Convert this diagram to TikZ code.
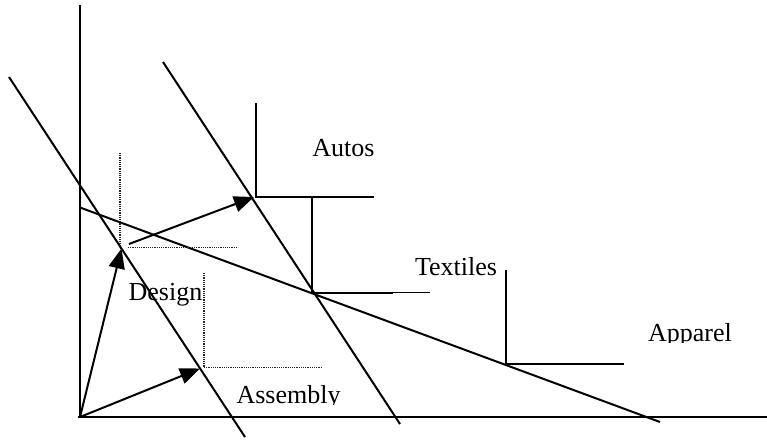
\documentclass[tikz,border=0pt]{standalone}
\usepackage{fontspec}
\setmainfont{Liberation Serif}
\usetikzlibrary{arrows.meta}
\begin{document}
\begin{tikzpicture}[x=1pt,y=-1pt,
  ln/.style={line width=2pt,black},
  ax/.style={line width=2.2pt,black},
  dots/.style={line width=1.6pt,black!85,dash pattern=on 1.1pt off 1.1pt},
  arr/.style={line width=2pt,-{Triangle[length=20pt,width=16pt]}},
  lbl/.style={font=\fontsize{26}{30}\selectfont,inner sep=0pt,anchor=base}]
\useasboundingbox (0,0) rectangle (767,442);
% axes
\coordinate (O) at (80,417);
\coordinate (ytop) at (80,5);
\coordinate (xl) at (78,417);
\coordinate (xr) at (767,417);
\draw[ax] (ytop) -- (80,418);
\draw[ax] (xl) -- (xr);
% three lines
\coordinate (L1a) at (9,77);
\coordinate (L1b) at (245,437);
\coordinate (L2a) at (163,62);
\coordinate (L2b) at (400,424);
\coordinate (L3a) at (80,207.5);
\coordinate (L3b) at (660,422);
\draw[ln] (L1a) -- (L1b);
\draw[ln] (L2a) -- (L2b);
\draw[ln] (L3a) -- (L3b);
% corners
\coordinate (D) at (121.5,248.5);
\coordinate (S) at (200,368.5);
\coordinate (A) at (254,197);
\coordinate (T) at (313,292.5);
\coordinate (P) at (506,364);
% dotted guides
\draw[dots] (120,153) -- (120,246);
\draw[dots] (128,247.5) -- (238,247.5);
\draw[dots] (204,273) -- (204,367.5);
\draw[dots] (204,367.5) -- (322,367.5);
% Autos bracket
\coordinate (Atop) at (255.5,103);
\coordinate (Aright) at (374,197);
\draw[ln] (Atop) -- (255.5,197) -- (Aright);
\draw[ln] (312,197) -- (312,292.5);
% Textiles bracket
\draw[ln] (T) -- (393,292.5);
\draw[line width=1.1pt] (393,292.5) -- (430,292.5);
% Apparel bracket
\coordinate (Ptop) at (506,270);
\coordinate (Pright) at (624,364);
\draw[ln] (Ptop) -- (P) -- (Pright);
% arrows
\coordinate (Dstart) at (129,244);
\draw[arr] (O) -- (D);
\draw[arr] (O) -- (S);
\draw[arr] (Dstart) -- (A);
% labels
\node[lbl] (autos) at (343.5,156.5) {Autos};
\node[lbl] (design) at (165.5,300) {Design};
\node[lbl] (textiles) at (456,275.5) {Textiles};
\begin{scope}
\clip (600,300) rectangle (767,342);
\node[lbl] (apparel) at (690,341) {Apparel};
\end{scope}
\begin{scope}
\clip (220,360) rectangle (360,404.5);
\node[lbl] (assembly) at (288.5,403) {Assembly};
\end{scope}
\end{tikzpicture}
\end{document}
